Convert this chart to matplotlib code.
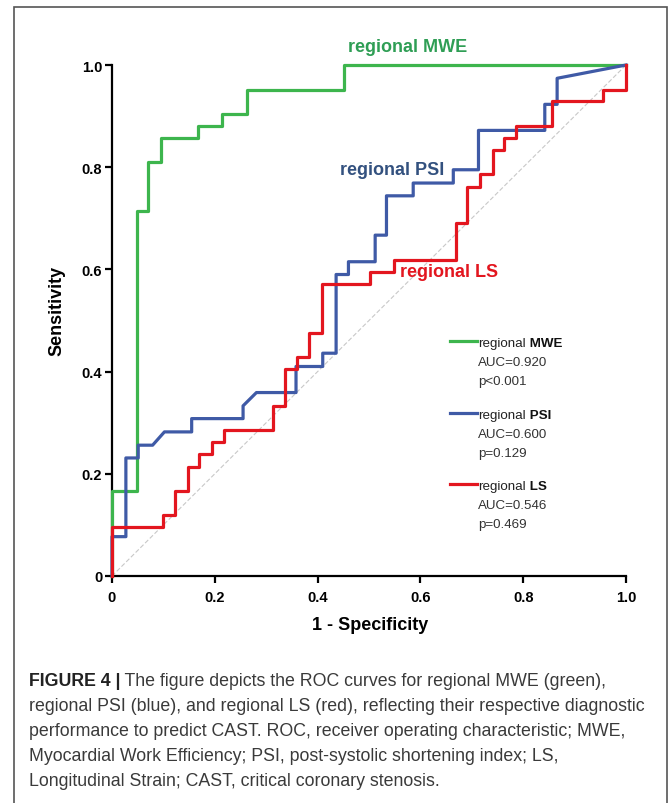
import matplotlib
matplotlib.use("Agg")
import matplotlib.pyplot as plt
from matplotlib import font_manager
from matplotlib.patches import Rectangle

# ROC curve vertices (1 - specificity, sensitivity)
mwe_fpr = [0, 0, 0.048, 0.048, 0.071, 0.071, 0.095, 0.095, 0.167, 0.167,
           0.214, 0.214, 0.262, 0.262, 0.452, 0.452, 1.0]
mwe_tpr = [0, 0.167, 0.167, 0.714, 0.714, 0.810, 0.810, 0.857, 0.857, 0.881,
           0.881, 0.905, 0.905, 0.952, 0.952, 1.0, 1.0]

psi_fpr = [0, 0, 0.027, 0.027, 0.051, 0.051, 0.079, 0.102, 0.155, 0.155,
           0.255, 0.255, 0.281, 0.358, 0.358, 0.410, 0.410, 0.436, 0.436, 0.460,
           0.460, 0.512, 0.512, 0.534, 0.534, 0.586, 0.586, 0.664, 0.664, 0.713,
           0.713, 0.842, 0.842, 0.866, 0.866, 1.0]
psi_tpr = [0, 0.077, 0.077, 0.231, 0.231, 0.256, 0.256, 0.282, 0.282, 0.308,
           0.308, 0.333, 0.359, 0.359, 0.410, 0.410, 0.436, 0.436, 0.590, 0.590,
           0.615, 0.615, 0.667, 0.667, 0.744, 0.744, 0.769, 0.769, 0.795, 0.795,
           0.872, 0.872, 0.923, 0.923, 0.974, 1.0]

ls_fpr = [0, 0, 0.099, 0.099, 0.123, 0.123, 0.147, 0.147, 0.170, 0.170,
          0.194, 0.194, 0.218, 0.218, 0.313, 0.313, 0.337, 0.337, 0.359, 0.359,
          0.384, 0.384, 0.408, 0.408, 0.502, 0.502, 0.549, 0.549, 0.669, 0.669,
          0.691, 0.691, 0.716, 0.716, 0.741, 0.741, 0.763, 0.763, 0.786, 0.786,
          0.857, 0.857, 0.955, 0.955, 1.0, 1.0]
ls_tpr = [0, 0.095, 0.095, 0.119, 0.119, 0.167, 0.167, 0.214, 0.214, 0.238,
          0.238, 0.262, 0.262, 0.286, 0.286, 0.333, 0.333, 0.405, 0.405, 0.429,
          0.429, 0.476, 0.476, 0.571, 0.571, 0.595, 0.595, 0.619, 0.619, 0.690,
          0.690, 0.762, 0.762, 0.786, 0.786, 0.833, 0.833, 0.857, 0.857, 0.881,
          0.881, 0.929, 0.929, 0.952, 0.952, 1.0]

ticks = [0, 0.2, 0.4, 0.6, 0.8, 1.0]
tick_labels = ["0", "0.2", "0.4", "0.6", "0.8", "1.0"]

legend_names = ["MWE", "PSI", "LS"]
legend_auc = ["AUC=0.920", "AUC=0.600", "AUC=0.546"]
legend_p = ["p<0.001", "p=0.129", "p=0.469"]

caption_head = "FIGURE 4 |"
caption_lines = [
    " The figure depicts the ROC curves for regional MWE (green),",
    "regional PSI (blue), and regional LS (red), reflecting their respective diagnostic",
    "performance to predict CAST. ROC, receiver operating characteristic; MWE,",
    "Myocardial Work Efficiency; PSI, post-systolic shortening index; LS,",
    "Longitudinal Strain; CAST, critical coronary stenosis.",
]

GREEN = "#3db54d"
BLUE = "#3f5aa6"
RED = "#e3161f"

plt.rcParams['font.family'] = ['Liberation Sans', 'DejaVu Sans']

names = set(f.name for f in font_manager.fontManager.ttflist)
if "Liberation Sans Narrow" in names:
    cap_font, cap_size = "Liberation Sans Narrow", 13
else:
    cap_font, cap_size = "Liberation Sans", 12.8

fig = plt.figure(figsize=(6.70, 8.04), dpi=100)
fig.patches.append(Rectangle((14 / 670, -0.01), 653 / 670, 1 - 8 / 804 + 0.01,
                             transform=fig.transFigure, fill=False,
                             edgecolor="#555555", linewidth=1.2))

ax = fig.add_axes([112 / 670, 227 / 804, 514 / 670, 511 / 804])
ax.plot([0, 1], [0, 1], color="#c8c8c8", lw=0.8, dashes=(4, 2))
ax.plot(mwe_fpr, mwe_tpr, color=GREEN, lw=2.3, clip_on=False, zorder=3)
ax.plot(psi_fpr, psi_tpr, color=BLUE, lw=2.3, clip_on=False, zorder=3)
ax.plot(ls_fpr, ls_tpr, color=RED, lw=2.3, clip_on=False, zorder=4)

ax.set_xlim(0, 1)
ax.set_ylim(0, 1)
for s in ["top", "right"]:
    ax.spines[s].set_visible(False)
for s in ["left", "bottom"]:
    ax.spines[s].set_linewidth(1.6)
ax.set_xticks(ticks)
ax.set_yticks(ticks)
ax.set_xticklabels(tick_labels, fontweight="bold", fontsize=10.5)
ax.set_yticklabels(tick_labels, fontweight="bold", fontsize=10.5)
ax.tick_params(direction="out", length=5, width=1.6, pad=2)
ax.tick_params(axis="x", pad=5)

ax.set_xlabel("1 - Specificity", fontweight="bold", fontsize=13, va="center")
ax.xaxis.set_label_coords(0.502, -0.094)
ax.set_ylabel("Sensitivity", fontweight="bold", fontsize=13, va="center")
ax.yaxis.set_label_coords(-0.108, 0.52)

# curve labels
ax.text(0.459, 1.037, "regional MWE", color="#2f9e55", fontweight="bold",
        fontsize=13, va="center", clip_on=False)
ax.text(0.444, 0.795, "regional PSI", color="#33517f", fontweight="bold",
        fontsize=13, va="center")
ax.text(0.560, 0.595, "regional LS", color=RED, fontweight="bold",
        fontsize=13, va="center")

# legend drawn by hand
leg_y = [0.456, 0.315, 0.176]
for col, name, auc, p, y in zip([GREEN, BLUE, RED], legend_names, legend_auc,
                                legend_p, leg_y):
    ax.plot([0.658, 0.711], [y + 0.004, y + 0.004], color=col, lw=2.3)
    t = ax.text(0.712, y, "regional", fontsize=9.6, va="center", color="#222222")
    ax.annotate(" " + name, xy=(1, 0), xycoords=t, fontsize=9.6,
                fontweight="bold", va="bottom", color="#111111")
    ax.text(0.712, y - 0.0372, auc, fontsize=9.6, va="center", color="#333333")
    ax.text(0.712, y - 0.0744, p, fontsize=9.6, va="center", color="#333333")

# caption
line_y = [682, 707, 732, 757, 782]
h = fig.text(29 / 670, 1 - line_y[0] / 804, caption_head, fontsize=cap_size,
             family=cap_font, fontweight="bold", va="center", color="#222222")
ax.annotate(caption_lines[0], xy=(1, 0), xycoords=h, fontsize=cap_size,
            family=cap_font, color="#3a3a3a", va="bottom",
            annotation_clip=False)
for line, y in zip(caption_lines[1:], line_y[1:]):
    fig.text(29 / 670, 1 - y / 804, line, fontsize=cap_size, family=cap_font,
             va="center", color="#3a3a3a")

fig.savefig("out.png", dpi=100)
